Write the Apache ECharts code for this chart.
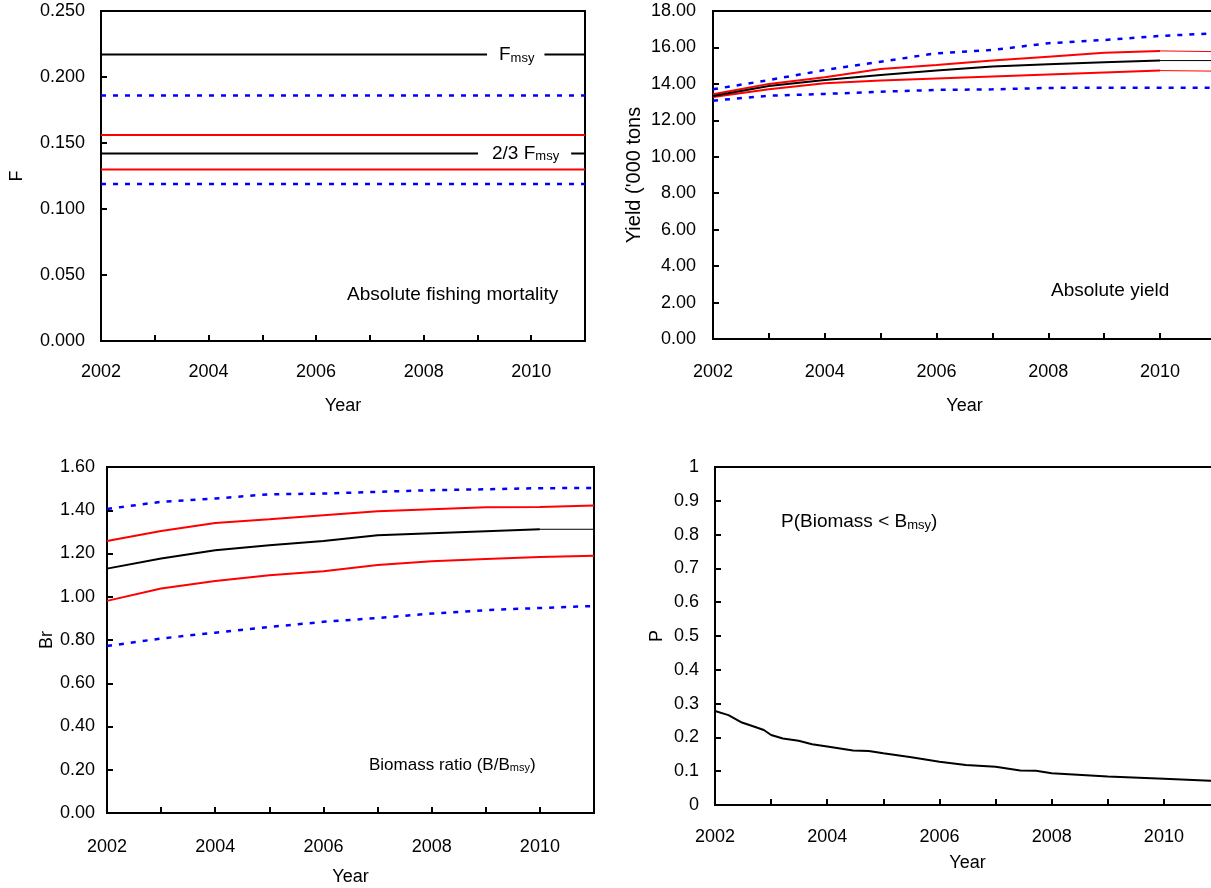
<!DOCTYPE html>
<html>
<head>
<meta charset="utf-8">
<script src="https://cdn.jsdelivr.net/npm/echarts@6/dist/echarts.min.js"></script>
<style>html,body{margin:0;padding:0;background:#fff}#c{width:1211px;height:888px}</style>
</head>
<body>
<div id="c"></div>
<script>
// ---- data ----
var years = [2002, 2003, 2004, 2005, 2006, 2007, 2008, 2009, 2010, 2011];

var fUpper95  = [0.186, 0.186, 0.186, 0.186, 0.186, 0.186, 0.186, 0.186, 0.186, 0.186];
var fUpper    = [0.156, 0.156, 0.156, 0.156, 0.156, 0.156, 0.156, 0.156, 0.156, 0.156];
var fMsy      = [0.217, 0.217, 0.217, 0.217, 0.217, 0.217, 0.217, 0.217, 0.217, 0.217];
var fTwoThird = [0.142, 0.142, 0.142, 0.142, 0.142, 0.142, 0.142, 0.142, 0.142, 0.142];
var fLower    = [0.130, 0.130, 0.130, 0.130, 0.130, 0.130, 0.130, 0.130, 0.130, 0.130];
var fLower95  = [0.119, 0.119, 0.119, 0.119, 0.119, 0.119, 0.119, 0.119, 0.119, 0.119];

var yieldUpper95 = [13.70, 14.21, 14.76, 15.22, 15.68, 15.86, 16.23, 16.41, 16.63, 16.78];
var yieldUpper   = [13.43, 14.00, 14.36, 14.82, 15.04, 15.28, 15.49, 15.71, 15.81, 15.77];
var yieldMedian  = [13.33, 13.89, 14.21, 14.49, 14.73, 14.95, 15.08, 15.19, 15.28, 15.28];
var yieldLower   = [13.28, 13.70, 14.03, 14.18, 14.29, 14.40, 14.51, 14.62, 14.73, 14.70];
var yieldLower95 = [13.08, 13.35, 13.45, 13.57, 13.67, 13.70, 13.78, 13.79, 13.79, 13.79];

var brUpper95 = [1.406, 1.439, 1.454, 1.474, 1.477, 1.485, 1.493, 1.497, 1.502, 1.503];
var brUpper   = [1.258, 1.304, 1.341, 1.358, 1.377, 1.395, 1.405, 1.414, 1.415, 1.422];
var brMedian  = [1.130, 1.177, 1.215, 1.238, 1.258, 1.284, 1.294, 1.303, 1.312, 1.312];
var brLower   = [0.981, 1.038, 1.073, 1.099, 1.118, 1.147, 1.164, 1.175, 1.184, 1.190];
var brLower95 = [0.772, 0.807, 0.834, 0.860, 0.884, 0.902, 0.922, 0.938, 0.948, 0.957];

var pYears  = [2002, 2002.24, 2002.48, 2002.73, 2002.87, 2003, 2003.21, 2003.49, 2003.73, 2004, 2004.46, 2004.74, 2005, 2005.5, 2006, 2006.47, 2007, 2007.44, 2007.72, 2008, 2009, 2010, 2010.83, 2011];
var pValues = [0.278, 0.266, 0.244, 0.230, 0.222, 0.207, 0.197, 0.190, 0.180, 0.173, 0.161, 0.160, 0.153, 0.141, 0.128, 0.118, 0.113, 0.102, 0.101, 0.094, 0.084, 0.078, 0.072, 0.071];

var yTicks = [
  {min: 0, max: 0.25, interval: 0.05, digits: 3},
  {min: 0, max: 18, interval: 2, digits: 2},
  {min: 0, max: 1.6, interval: 0.2, digits: 2},
  {min: 0, max: 1, interval: 0.1, digits: 1}
];

// ---- helpers ----
var FONT = 'Liberation Sans, Arial, sans-serif';
function pairs(xs, ys, from, to) {
  var out = [];
  for (var i = (from || 0); i <= (to == null ? xs.length - 1 : to); i++) out.push([xs[i], ys[i]]);
  return out;
}
function line(idx, data, color, width, dashed) {
  return {
    type: 'line', xAxisIndex: idx, yAxisIndex: idx, data: data,
    showSymbol: false, symbol: 'none', silent: true,
    lineStyle: {color: color, width: width, type: dashed ? [5, 7] : 'solid'},
    z: dashed ? 3 : 4
  };
}
var grids = [
  {left: 101, top: 11, width: 484, height: 330},
  {left: 713, top: 11, width: 503, height: 328},
  {left: 107, top: 467, width: 487, height: 346},
  {left: 715, top: 467, width: 505, height: 338}
];
grids.forEach(function (g) {
  g.show = true; g.borderColor = '#000'; g.borderWidth = 2;
  g.containLabel = false; g.outerBoundsMode = 'none';
});

var xNameGap = [56, 58, 55, 49];
var xLabelMargin = [22, 24, 25, 23];
var yNames = ['F', "Yield ('000 tons", 'Br', 'P'];
var yNameGap = [75, 69, 43, 49];
var yNameSize = [18, 20, 18, 18];
var yLabelMargin = [16, 17, 12, 16];

var xAxes = grids.map(function (g, i) {
  return {
    type: 'value', gridIndex: i, min: 2002, max: 2011, interval: 1,
    name: 'Year', nameLocation: 'middle', nameGap: xNameGap[i],
    nameTextStyle: {color: '#000', fontSize: 18, fontFamily: FONT},
    axisLine: {show: true, lineStyle: {color: '#000', width: 2}},
    axisTick: {show: true, inside: true, length: 6, lineStyle: {color: '#000', width: 2}},
    axisLabel: {color: '#000', fontSize: 18, fontFamily: FONT, margin: xLabelMargin[i],
      formatter: function (v) { return (Math.round(v) % 2 === 0) ? String(Math.round(v)) : ''; }},
    splitLine: {show: false}
  };
});
var yAxes = grids.map(function (g, i) {
  var t = yTicks[i];
  return {
    type: 'value', gridIndex: i, min: t.min, max: t.max, interval: t.interval,
    name: yNames[i], nameLocation: 'middle', nameGap: yNameGap[i],
    nameTextStyle: {color: '#000', fontSize: yNameSize[i], fontFamily: FONT},
    axisLine: {show: true, lineStyle: {color: '#000', width: 2}},
    axisTick: {show: true, inside: true, length: 6, lineStyle: {color: '#000', width: 2}},
    axisLabel: {color: '#000', fontSize: 18, fontFamily: FONT, margin: yLabelMargin[i],
      formatter: function (v) {
        if (i === 3) { if (Math.abs(v) < 1e-9) return '0'; if (Math.abs(v - 1) < 1e-9) return '1'; }
        return v.toFixed(t.digits);
      }},
    splitLine: {show: false}
  };
});

var RED = '#ff0000', BLUE = '#0000ff', BLACK = '#000000';
var series = [
  // Panel 1
  line(0, pairs(years, fUpper95), BLUE, 2.5, true),
  line(0, pairs(years, fLower95), BLUE, 2.5, true),
  line(0, pairs(years, fUpper), RED, 2, false),
  line(0, pairs(years, fLower), RED, 2, false),
  line(0, pairs(years, fMsy), BLACK, 2, false),
  line(0, pairs(years, fTwoThird), BLACK, 2, false),
  // Panel 2
  line(1, pairs(years, yieldUpper95), BLUE, 2.5, true),
  line(1, pairs(years, yieldLower95), BLUE, 2.5, true),
  line(1, pairs(years, yieldUpper, 0, 8), RED, 2, false),
  line(1, pairs(years, yieldUpper, 8, 9), RED, 1, false),
  line(1, pairs(years, yieldLower, 0, 8), RED, 2, false),
  line(1, pairs(years, yieldLower, 8, 9), RED, 1, false),
  line(1, pairs(years, yieldMedian, 0, 8), BLACK, 2, false),
  line(1, pairs(years, yieldMedian, 8, 9), BLACK, 1, false),
  // Panel 3
  line(2, pairs(years, brUpper95), BLUE, 2.5, true),
  line(2, pairs(years, brLower95), BLUE, 2.5, true),
  line(2, pairs(years, brUpper), RED, 2, false),
  line(2, pairs(years, brLower), RED, 2, false),
  line(2, pairs(years, brMedian, 0, 8), BLACK, 2, false),
  line(2, pairs(years, brMedian, 8, 9), BLACK, 1, false),
  // Panel 4
  line(3, pairs(pYears, pValues), BLACK, 2, false)
];

function txt(x, y, text, rich, opts) {
  opts = opts || {};
  var st = {
    text: text, x: x, y: y, fill: '#000',
    fontSize: opts.fontSize || 19, fontFamily: FONT,
    align: opts.align || 'left', textAlign: opts.align || 'left',
    verticalAlign: 'middle', textVerticalAlign: 'middle'
  };
  if (rich) st.rich = rich;
  if (opts.bg) { st.backgroundColor = '#fff'; st.padding = opts.padding; }
  return {type: 'text', z: 100, silent: true, style: st};
}
var subRich = function (big, small) {
  return {
    a: {fontSize: big, fontFamily: FONT, color: '#000', lineHeight: big, verticalAlign: 'top'},
    b: {fontSize: small, fontFamily: FONT, color: '#000', lineHeight: small, padding: [Math.round(big * 0.45), 0, 0, 0], verticalAlign: 'bottom'}
  };
};

var option = {
  animation: false,
  backgroundColor: '#fff',
  grid: grids,
  xAxis: xAxes,
  yAxis: yAxes,
  series: series,
  graphic: [
    txt(487, 55, '{a|F}{b|msy}', subRich(19, 13), {bg: true, padding: [4, 10, 4, 12]}),
    txt(478, 154, '{a|2/3 F}{b|msy}', subRich(19, 13), {bg: true, padding: [4, 12, 5, 14]}),
    txt(347, 295, 'Absolute fishing mortality', null, {fontSize: 19}),
    txt(1051, 291, 'Absolute yield', null, {fontSize: 19}),
    txt(369, 765, '{a|Biomass ratio (B/B}{b|msy}{a|)}', subRich(17, 11), {}),
    txt(781, 522, '{a|P(Biomass < B}{b|msy}{a|)}', subRich(19, 13), {})
  ]
};

var chart = echarts.init(document.getElementById('c'), null, {renderer: 'canvas'});
chart.setOption(option);
</script>
</body>
</html>
